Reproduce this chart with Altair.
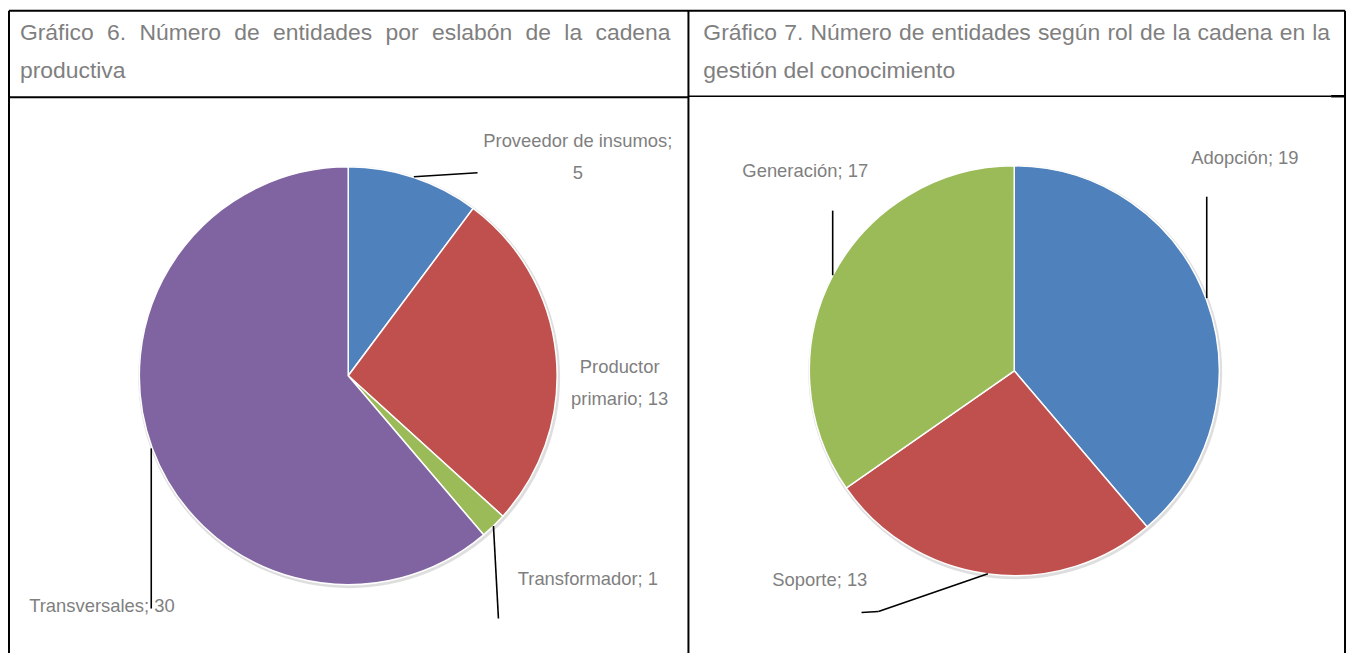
import math
import altair as alt
import pandas as pd

# ---------------- data ----------------
cadena_cat = ["Proveedor de insumos", "Productor primario", "Transformador", "Transversales"]
cadena_val = [5, 13, 1, 30]

rol_cat = ["Adopción", "Soporte", "Generación"]
rol_val = [19, 13, 17]

title6 = ["Gráfico 6. Número de entidades por eslabón de la cadena", "productiva"]
title7 = ["Gráfico 7. Número de entidades según rol de la cadena en la", "gestión del conocimiento"]

# ---------------- style / layout ----------------
COLORS = ["#4F81BD", "#C0504D", "#9BBB59", "#8064A2"]
GRAY = "#7F7F7F"
FONT = "Liberation Sans"
M = 8  # page margin (reference px -> chart px)
W, H = 1346, 645
TITLE_SIZE = 23
LABEL_SIZE = 18.5
LINE_H = 32

# Liberation Sans (Arial-metric) advance widths per 1000 em, used to justify the header lines
AW = dict(a=556, b=556, c=500, d=556, e=556, f=278, g=556, h=556, i=222, j=222, k=500, l=222,
          m=833, n=556, o=556, p=556, q=556, r=333, s=500, t=278, u=556, v=500, w=722, x=500,
          y=500, z=500, G=778, N=722)
AW.update({"á": 556, "é": 556, "í": 278, "ó": 556, "ú": 556, ".": 278, ";": 278})


def word_w(wd, size):
    return sum(AW.get(ch, 556) for ch in wd) * size / 1000.0


def justify(line, x0, x1, y):
    words = line.split(" ")
    ws = [word_w(w, TITLE_SIZE) for w in words]
    gap = (x1 - x0 - sum(ws)) / (len(words) - 1)
    out, x = [], x0
    for w, wd in zip(words, ws):
        out.append({"x": x - M, "y": y - M, "t": w})
        x += wd + gap
    return out


title_rows = justify(title6[0], 20, 674, 38) + [{"x": 20 - M, "y": 77 - M, "t": title6[1]}]
title_rows += justify(title7[0], 707, 1337, 38) + [{"x": 707 - M, "y": 77 - M, "t": title7[1]}]
titles = alt.Chart(pd.DataFrame(title_rows)).mark_text(
    align="left", baseline="alphabetic", font=FONT, fontSize=TITLE_SIZE, color=GRAY
).encode(x=alt.X("x:Q", scale=None, axis=None), y=alt.Y("y:Q", scale=None, axis=None), text="t:N")

# table borders (reference px)
border_rows = [
    (2, 2, 1352, 2, 2), (2, 2, 2, 668, 2), (692, 2, 692, 668, 2), (1352, 2, 1352, 668, 2),
    (2, 96, 692, 96, 2), (692, 95, 1338, 95, 1.5), (1338, 95, 1352, 95, 2.5),
]
bdf = pd.DataFrame([{"x": max(a - M, 1), "y": max(b - M, 1), "x2": max(c - M, 1), "y2": max(d - M, 1), "sw": s}
                    for a, b, c, d, s in border_rows])
borders = alt.Chart(bdf).mark_rule(color="black").encode(
    x=alt.X("x:Q", scale=None, axis=None), y=alt.Y("y:Q", scale=None, axis=None),
    x2="x2:Q", y2="y2:Q", strokeWidth=alt.StrokeWidth("sw:Q", scale=None, legend=None))

# leader lines (reference px)
leader_rows = [
    (416, 176, 480, 172), (496, 527, 501, 620), (152, 449, 152, 610),
    (837, 210, 837, 275), (1213, 196, 1213, 298), (866, 614, 883, 613), (883, 613, 993, 575),
]
ldf = pd.DataFrame([{"x": a - M, "y": b - M, "x2": c - M, "y2": d - M} for a, b, c, d in leader_rows])
leaders = alt.Chart(ldf).mark_rule(color="black", strokeWidth=1.6).encode(
    x=alt.X("x:Q", scale=None, axis=None), y=alt.Y("y:Q", scale=None, axis=None), x2="x2:Q", y2="y2:Q")


def pie(cats, vals, cx, cy, r, label_r, offsets, breaks):
    cx, cy = cx - M, cy - M
    labels, nlines = [], []
    for c, v in zip(cats, vals):
        s = f"{c}; {v}"
        if c in breaks:
            s = s.replace("; ", ";\n", 1) if breaks[c] == "; " else s.replace(" ", "\n", 1)
        labels.append(s)
        nlines.append(s.count("\n"))
    df = pd.DataFrame({
        "cat": cats, "val": vals, "idx": list(range(len(cats))), "label": labels,
        # multi-line labels: first line sits at the anchor, so lift the block by half its extra height
        "dx": [offsets[c][0] for c in cats],
        "dy": [offsets[c][1] - n * LINE_H / 2 for c, n in zip(cats, nlines)],
    })
    shadow = alt.Chart(pd.DataFrame({"a": [0]})).mark_arc(
        outerRadius=r + 2, theta=0, theta2=2 * math.pi, color="#000000", opacity=0.13
    ).encode(x=alt.value(cx + 1), y=alt.value(cy + 1.5))
    arcs = alt.Chart(df).mark_arc(outerRadius=r, stroke="white", strokeWidth=1.5).encode(
        theta=alt.Theta("val:Q", stack=True),
        order=alt.Order("idx:Q"),
        color=alt.Color("cat:N", scale=alt.Scale(domain=cats, range=COLORS[:len(cats)]), legend=None),
        x=alt.value(cx), y=alt.value(cy),
    )
    text = alt.Chart(df).transform_joinaggregate(total="sum(val)").transform_window(
        cum="sum(val)", sort=[alt.SortField("idx")], frame=[None, 0]
    ).transform_calculate(
        mid="(datum.cum - datum.val / 2) / datum.total * 2 * PI"
    ).transform_calculate(
        lx=f"{cx} + {label_r} * sin(datum.mid) + datum.dx",
        ly=f"{cy} - {label_r} * cos(datum.mid) + datum.dy",
    ).mark_text(
        align="center", baseline="middle", font=FONT, fontSize=LABEL_SIZE, color=GRAY,
        lineBreak="\n", lineHeight=LINE_H,
    ).encode(
        x=alt.X("lx:Q", scale=None, axis=None), y=alt.Y("ly:Q", scale=None, axis=None), text="label:N"
    )
    return [shadow, arcs, text]


pie1 = pie(cadena_cat, cadena_val, 350, 376, 210, 250,
           {"Proveedor de insumos": (152, 17), "Productor primario": (24, 31),
            "Transformador": (67, 25), "Transversales": (-13, 145)},
           {"Proveedor de insumos": "; ", "Productor primario": " "})
pie2 = pie(rol_cat, rol_val, 1019.5, 371, 206, 246,
           {"Adopción": (1, -129), "Soporte": (-164, -34), "Generación": (8, -87)},
           {})

chart = alt.layer(borders, titles, *pie1, *pie2, leaders).resolve_scale(
    color="independent", theta="independent"
).properties(
    width=W, height=H, autosize=alt.AutoSizeParams(type="none"), padding=0, background="white"
).configure_view(stroke=None)

chart.save("out.html", embed_options={"renderer": "svg", "actions": False})
